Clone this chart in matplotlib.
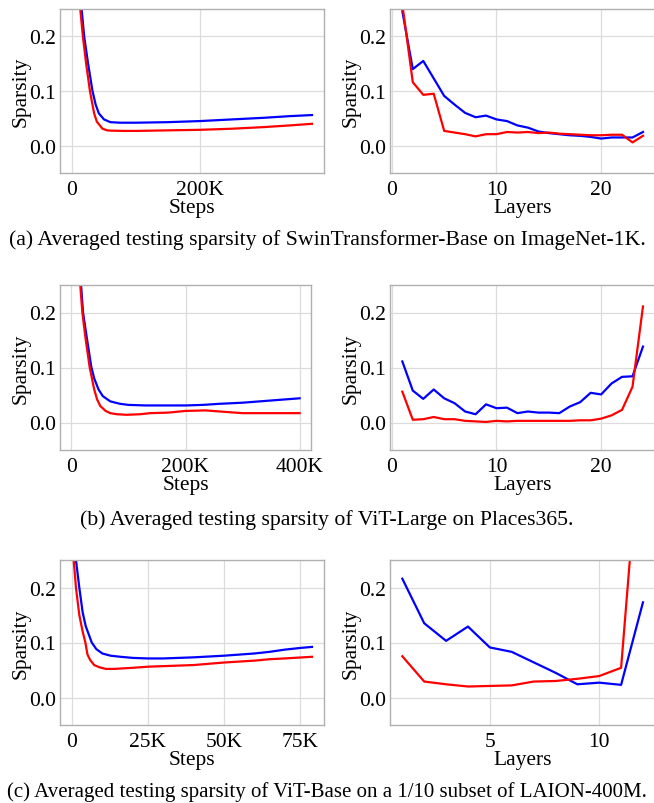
import matplotlib
matplotlib.use("Agg")
import matplotlib.pyplot as plt
import numpy as np

plt.rcParams['font.family'] = ['Liberation Serif', 'DejaVu Serif']
plt.rcParams['mathtext.fontset'] = 'stix'

# ---------------- data ----------------
# (a) SwinTransformer-Base on ImageNet-1K
swin_steps_blue = [0, 5e3, 10e3, 15e3, 19e3, 25e3, 32e3, 37e3, 42e3, 50e3, 60e3, 75e3, 100e3,
                   150e3, 200e3, 250e3, 300e3, 340e3, 375e3]
swin_blue = [0.60, 0.44, 0.32, 0.25, 0.20, 0.151, 0.100, 0.075, 0.059, 0.048, 0.043, 0.042, 0.042,
             0.043, 0.045, 0.048, 0.051, 0.054, 0.056]
swin_steps_red = [0, 5e3, 10e3, 12.9e3, 17e3, 22e3, 28e3, 34.6e3, 38.8e3, 47.6e3, 55e3, 60e3, 80e3,
                  100e3, 150e3, 200e3, 250e3, 300e3, 340e3, 375e3]
swin_red = [0.58, 0.42, 0.30, 0.25, 0.20, 0.151, 0.100, 0.059, 0.044, 0.031, 0.028, 0.0275, 0.027,
            0.027, 0.028, 0.029, 0.031, 0.034, 0.037, 0.040]

swin_layers = list(range(1, 25))
swin_layer_blue = [0.246, 0.140, 0.155, 0.123, 0.091, 0.075, 0.060, 0.052, 0.055, 0.048, 0.045, 0.037,
                   0.033, 0.026, 0.023, 0.021, 0.019, 0.018, 0.016, 0.013, 0.015, 0.015, 0.015, 0.025]
swin_layer_red = [0.259, 0.116, 0.093, 0.095, 0.027, 0.024, 0.021, 0.017, 0.021, 0.021, 0.025, 0.024,
                  0.025, 0.023, 0.024, 0.022, 0.021, 0.020, 0.019, 0.019, 0.020, 0.020, 0.006, 0.018]

# (b) ViT-Large on Places365
vitl_steps_blue = [0, 5e3, 10e3, 16.9e3, 20.4e3, 27.3e3, 34.9e3, 40e3, 47.6e3, 55e3, 68e3, 85e3, 100e3,
                   130e3, 170e3, 200e3, 230e3, 260e3, 300e3, 350e3, 400e3]
vitl_blue = [0.62, 0.47, 0.36, 0.25, 0.20, 0.152, 0.101, 0.080, 0.060, 0.048, 0.0385, 0.034, 0.032,
             0.031, 0.031, 0.031, 0.032, 0.034, 0.036, 0.040, 0.044]
vitl_steps_red = [0, 5e3, 10e3, 15.5e3, 19.2e3, 24.9e3, 31.9e3, 40e3, 45e3, 50.6e3, 60e3, 68e3, 80e3,
                  97e3, 120e3, 138e3, 170e3, 200e3, 235e3, 260e3, 300e3, 350e3, 400e3]
vitl_red = [0.60, 0.45, 0.34, 0.25, 0.20, 0.152, 0.101, 0.060, 0.042, 0.030, 0.021, 0.017, 0.015,
            0.014, 0.015, 0.017, 0.018, 0.021, 0.022, 0.020, 0.017, 0.017, 0.017]

vitl_layers = list(range(1, 25))
vitl_layer_blue = [0.111, 0.058, 0.043, 0.060, 0.044, 0.035, 0.020, 0.015, 0.033, 0.026, 0.027, 0.017,
                   0.020, 0.018, 0.018, 0.017, 0.029, 0.037, 0.054, 0.051, 0.071, 0.083, 0.084, 0.138]
vitl_layer_red = [0.056, 0.005, 0.006, 0.010, 0.006, 0.006, 0.003, 0.002, 0.001, 0.003, 0.002, 0.003,
                  0.003, 0.003, 0.003, 0.003, 0.003, 0.004, 0.004, 0.007, 0.013, 0.023, 0.065, 0.211]

# (c) ViT-Base on LAION-400M subset
vitb_steps_blue = [0, 1.3e3, 2.4e3, 3.5e3, 4.5e3, 6.5e3, 8e3, 10e3, 12.7e3, 16e3, 20e3, 25e3, 30e3,
                   40e3, 50e3, 60e3, 65e3, 70e3, 75e3, 79e3]
vitb_blue = [0.40, 0.25, 0.20, 0.155, 0.130, 0.100, 0.088, 0.080, 0.076, 0.074, 0.072, 0.071, 0.071,
             0.073, 0.076, 0.080, 0.083, 0.087, 0.090, 0.092]
vitb_steps_red = [0, 0.55e3, 1.3e3, 2.4e3, 3.5e3, 4.4e3, 5.1e3, 6e3, 7.3e3, 9e3, 11.1e3, 14e3, 20e3,
                  25e3, 30e3, 40e3, 50e3, 60e3, 65e3, 70e3, 75e3, 79e3]
vitb_red = [0.28, 0.25, 0.20, 0.150, 0.120, 0.100, 0.078, 0.068, 0.059, 0.055, 0.052, 0.052, 0.054,
            0.056, 0.057, 0.059, 0.0636, 0.067, 0.0696, 0.071, 0.0727, 0.074]

vitb_layers = list(range(1, 13))
vitb_layer_blue = [0.216, 0.135, 0.103, 0.129, 0.091, 0.083, 0.064, 0.045, 0.024, 0.027, 0.023, 0.173]
vitb_layer_red = [0.075, 0.029, 0.024, 0.020, 0.021, 0.022, 0.029, 0.030, 0.034, 0.039, 0.054, 0.544]

step_ticks_a = [0, 200e3]
step_labels_a = ["0", "200K"]
step_ticks_b = [0, 200e3, 400e3]
step_labels_b = ["0", "200K", "400K"]
step_ticks_c = [0, 25e3, 50e3, 75e3]
step_labels_c = ["0", "25K", "50K", "75K"]
layer_ticks_ab = [0, 10, 20]
layer_ticks_c = [5, 10]
y_ticks = [0.0, 0.1, 0.2]
y_labels = ["0.0", "0.1", "0.2"]

captions = ["(a) Averaged testing sparsity of SwinTransformer-Base on ImageNet-1K.",
            "(b) Averaged testing sparsity of ViT-Large on Places365.",
            "(c) Averaged testing sparsity of ViT-Base on a 1/10 subset of LAION-400M."]

# ---------------- figure ----------------
W, H = 654, 804
fig = plt.figure(figsize=(W / 100, H / 100), dpi=100)

BLUE = '#0000ff'
RED = '#ff0000'
FS = 15.5


def add_ax(x0, x1, top, bottom):
    return fig.add_axes([x0 / W, 1 - bottom / H, (x1 - x0) / W, (bottom - top) / H])


def style(ax, xticks, xlabels, xlabel):
    ax.set_ylim(-0.05, 0.25)
    ax.set_yticks(y_ticks)
    ax.set_yticklabels(y_labels)
    ax.set_xticks(xticks)
    ax.set_xticklabels(xlabels)
    ax.grid(True, color='#dcdcdc', linewidth=0.9)
    ax.set_axisbelow(True)
    for s in ax.spines.values():
        s.set_color('#b0b0b0')
        s.set_linewidth(1.0)
    ax.tick_params(length=0, labelsize=FS, pad=3)
    ax.tick_params(axis='x', pad=5)
    ax.set_xlabel(xlabel, fontsize=FS, labelpad=-1)
    ax.set_ylabel("Sparsity", fontsize=FS, labelpad=-1)


rows = [(10, 174), (286, 451), (561, 726)]
left_x1 = [324, 311, 324]

step_data = [
    (swin_steps_blue, swin_blue, swin_steps_red, swin_red, step_ticks_a, step_labels_a),
    (vitl_steps_blue, vitl_blue, vitl_steps_red, vitl_red, step_ticks_b, step_labels_b),
    (vitb_steps_blue, vitb_blue, vitb_steps_red, vitb_red, step_ticks_c, step_labels_c),
]
layer_data = [
    (swin_layers, swin_layer_blue, swin_layer_red, layer_ticks_ab),
    (vitl_layers, vitl_layer_blue, vitl_layer_red, layer_ticks_ab),
    (vitb_layers, vitb_layer_blue, vitb_layer_red, layer_ticks_c),
]

for i, (top, bottom) in enumerate(rows):
    xb, yb, xr, yr, tks, tls = step_data[i]
    ax = add_ax(60, left_x1[i], top, bottom)
    ax.plot(xb, yb, color=BLUE, lw=1.6)
    ax.plot(xr, yr, color=RED, lw=1.6)
    style(ax, tks, tls, "Steps")

    L, lb, lr, ltk = layer_data[i]
    ax2 = add_ax(390.3, 655, top, bottom)
    ax2.plot(L, lb, color=BLUE, lw=1.6)
    ax2.plot(L, lr, color=RED, lw=1.6)
    style(ax2, ltk, [str(t) for t in ltk], "Layers")

cap_y = [240, 520, 792]
cap_fs = [15.7, 15.7, 15.0]
for c, y, f in zip(captions, cap_y, cap_fs):
    fig.text(0.5, 1 - y / H, c, ha='center', va='center', fontsize=f)

fig.savefig("out.png", dpi=100)
